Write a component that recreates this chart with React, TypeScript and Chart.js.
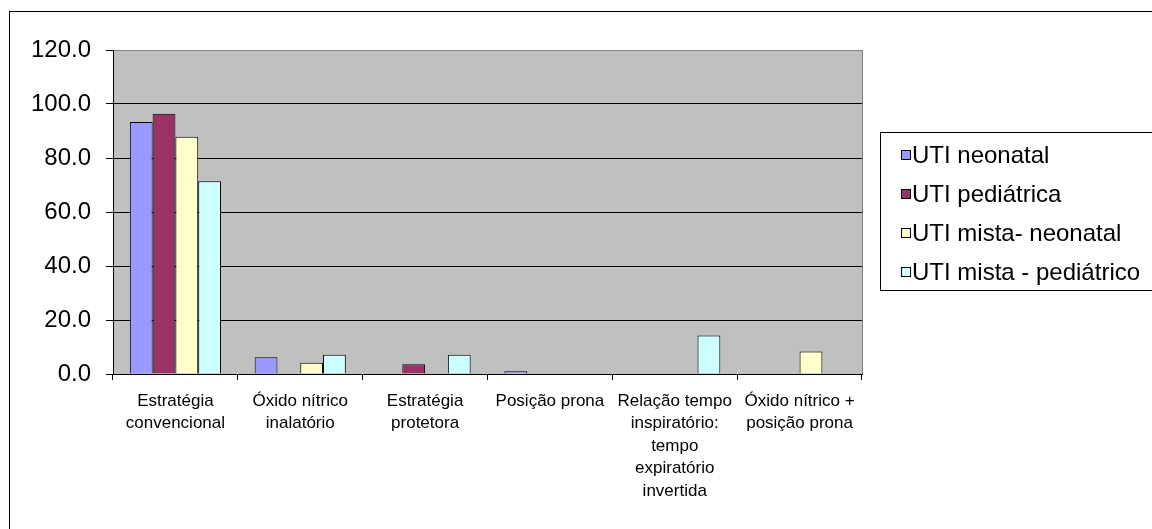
import { useEffect, useRef } from "react";
import { Chart, registerables } from "chart.js";

Chart.register(...registerables);

// Categories (multi-line tick labels)
const categories: string[][] = [
  ["Estratégia", "convencional"],
  ["Óxido nítrico", "inalatório"],
  ["Estratégia", "protetora"],
  ["Posição prona"],
  ["Relação tempo", "inspiratório:", "tempo", "expiratório", "invertida"],
  ["Óxido nítrico +", "posição prona"],
];

// Series
const seriesNames = [
  "UTI neonatal",
  "UTI pediátrica",
  "UTI mista- neonatal",
  "UTI mista - pediátrico",
];
const utiNeonatal = [93.3, 6.2, 0, 1.0, 0, 0];
const utiPediatrica = [96.4, 0, 3.6, 0, 0, 0];
const utiMistaNeonatal = [87.9, 4.2, 0, 0, 0, 8.3];
const utiMistaPediatrico = [71.4, 7.1, 7.1, 0, 14.3, 0];
const seriesColors = ["#9999FF", "#993366", "#FFFFCC", "#CCFFFF"];

// Value axis
const yMin = 0;
const yMax = 120;
const yStep = 20;

const FONT = "'Liberation Sans', Arial, sans-serif";

const W = 1152;
const H = 529;

// Grey plot background, plot-area frame and outer chart frame
const framePlugin = {
  id: "frame",
  beforeDraw(chart: any) {
    const { ctx, chartArea } = chart;
    ctx.save();
    ctx.fillStyle = "#FFFFFF";
    ctx.fillRect(0, 0, chart.width, chart.height);
    ctx.fillStyle = "#C0C0C0";
    ctx.fillRect(
      chartArea.left,
      chartArea.top,
      chartArea.right - chartArea.left,
      chartArea.bottom - chartArea.top
    );
    ctx.restore();
  },
  afterDraw(chart: any) {
    const { ctx, chartArea } = chart;
    ctx.save();
    ctx.strokeStyle = "#808080";
    ctx.lineWidth = 1;
    ctx.beginPath();
    ctx.moveTo(Math.round(chartArea.right) + 0.5, chartArea.top);
    ctx.lineTo(Math.round(chartArea.right) + 0.5, chartArea.bottom);
    ctx.stroke();

    ctx.strokeStyle = "#000000";
    ctx.strokeRect(9.5, 11.5, W + 20, H + 20);
    ctx.restore();
  },
};

// Boxed legend on the right
const boxLegendPlugin = {
  id: "boxLegend",
  afterDraw(chart: any) {
    const { ctx } = chart;
    const left = 880.5;
    const top = 132.5;
    const height = 158;
    ctx.save();
    ctx.fillStyle = "#FFFFFF";
    ctx.fillRect(left, top, 300, height);
    ctx.strokeStyle = "#000000";
    ctx.lineWidth = 1;
    ctx.strokeRect(left, top, 300, height);
    ctx.font = `24px ${FONT}`;
    ctx.textBaseline = "middle";
    ctx.textAlign = "left";
    chart.data.datasets.forEach((ds: any, i: number) => {
      const cy = 155 + i * 39;
      ctx.fillStyle = ds.backgroundColor;
      ctx.fillRect(901.5, cy - 4.5, 9, 9);
      ctx.strokeStyle = "#000000";
      ctx.strokeRect(901.5, cy - 4.5, 9, 9);
      ctx.fillStyle = "#000000";
      ctx.fillText(ds.label, 912, cy + 1);
    });
    ctx.restore();
  },
};

export default function App() {
  const canvasRef = useRef<HTMLCanvasElement | null>(null);

  useEffect(() => {
    if (!canvasRef.current) return;
    const seriesValues = [utiNeonatal, utiPediatrica, utiMistaNeonatal, utiMistaPediatrico];
    const chart = new Chart(canvasRef.current, {
      type: "bar",
      data: {
        labels: categories,
        datasets: seriesValues.map((vals, i) => ({
          label: seriesNames[i],
          data: vals,
          backgroundColor: seriesColors[i],
          borderColor: "#000000",
          borderWidth: 1,
          categoryPercentage: 0.73,
          barPercentage: 1.0,
        })),
      },
      options: {
        responsive: false,
        animation: false,
        devicePixelRatio: 1,
        layout: {
          padding: { left: 20, top: 50, right: W - 862, bottom: 10 },
        },
        plugins: {
          legend: { display: false },
          tooltip: { enabled: false },
        },
        scales: {
          x: {
            offset: true,
            grid: {
              offset: true,
              drawOnChartArea: false,
              drawTicks: true,
              tickLength: 6,
              tickColor: "#000000",
              color: "#000000",
            },
            border: { display: true, color: "#000000", width: 1 },
            ticks: {
              color: "#000000",
              padding: 10,
              maxRotation: 0,
              autoSkip: false,
              font: { family: FONT, size: 17, lineHeight: 1.32 },
            },
            afterFit(scale: any) {
              scale.height = 145;
            },
          },
          y: {
            min: yMin,
            max: yMax,
            grid: {
              color: (c: any) => (c.tick && c.tick.value === yMax ? "#808080" : "#000000"),
              tickColor: "#000000",
              tickLength: 7,
              drawTicks: true,
            },
            border: { display: true, color: "#000000", width: 1 },
            ticks: {
              stepSize: yStep,
              color: "#000000",
              padding: 15,
              font: { family: FONT, size: 24 },
              callback: (v: any) => Number(v).toFixed(1),
            },
            afterFit(scale: any) {
              scale.width = 93;
            },
          },
        },
      },
      plugins: [framePlugin, boxLegendPlugin],
    });
    return () => chart.destroy();
  }, []);

  return (
    <div style={{ position: "fixed", left: 0, top: 0, width: W, height: H, overflow: "hidden" }}>
      <canvas ref={canvasRef} width={W} height={H} style={{ display: "block" }} />
    </div>
  );
}
